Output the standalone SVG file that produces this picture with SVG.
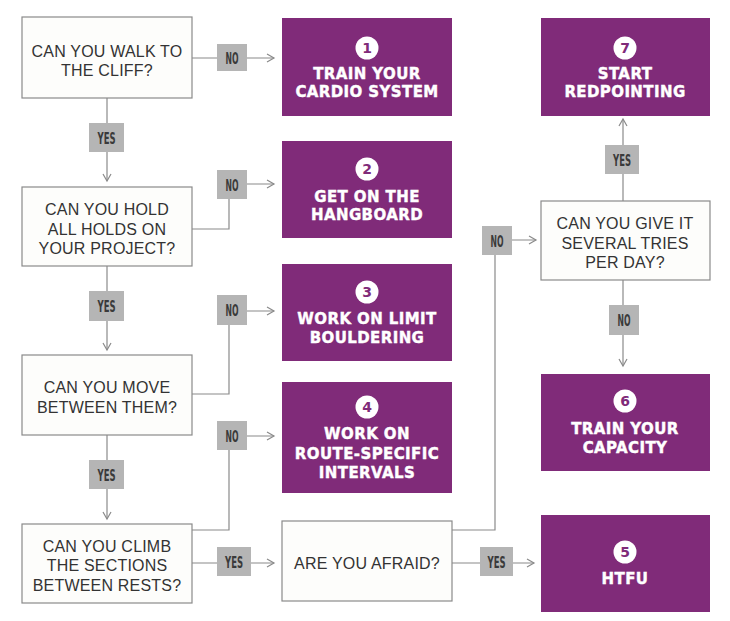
<svg xmlns="http://www.w3.org/2000/svg" width="730" height="621" viewBox="0 0 730 621">
<style>
.q{fill:#fdfdfb;stroke:#8a8a8a;stroke-width:1.2}
.qt{font-family:"Liberation Sans",Arial,sans-serif;font-size:16px;fill:#333;text-anchor:middle;dominant-baseline:central;letter-spacing:0.2px}
.p{fill:#802b79}
.pt{font-family:"DejaVu Sans","Liberation Sans",sans-serif;font-weight:bold;font-size:15px;fill:#fff;stroke:#fff;stroke-width:0.4;text-anchor:middle;dominant-baseline:central;letter-spacing:0.4px}
.num{fill:#fff}
.nt{font-family:"DejaVu Sans","Liberation Sans",sans-serif;font-weight:bold;font-size:14px;fill:#802b79;text-anchor:middle;dominant-baseline:central}
.c{fill:none;stroke:#8a8a8a;stroke-width:1.2;marker-end:url(#ah)}
.lb{fill:#b5b5b5}
.lt{font-family:"DejaVu Sans Condensed","Liberation Sans",sans-serif;font-weight:bold;font-size:16px;fill:#3a3a3a;text-anchor:middle;dominant-baseline:central}
</style>
<defs>
<marker id="ah" markerUnits="userSpaceOnUse" markerWidth="12" markerHeight="12" refX="8" refY="5" orient="auto">
<path d="M1,1 L8,5 L1,9" fill="none" stroke="#8a8a8a" stroke-width="1.2"/>
</marker>
</defs>
<rect width="730" height="621" fill="#fff"/>
<g id="connectors">
<path class="c" d="M192,58 H274"/>
<path class="c" d="M107,98 V181"/>
<path class="c" d="M192,229 H229 V184 H274"/>
<path class="c" d="M107,266 V350"/>
<path class="c" d="M192,394 H229 V311 H274"/>
<path class="c" d="M107,435 V519"/>
<path class="c" d="M192,530 H229 V436 H274"/>
<path class="c" d="M192,563 H274"/>
<path class="c" d="M452,530 H495 V240 H536"/>
<path class="c" d="M452,563 H534"/>
<path class="c" d="M623,201 V119"/>
<path class="c" d="M623,280 V366"/>
<rect class="lb" x="217" y="44" width="30" height="27"/><text class="lt" x="232" y="58" textLength="13" lengthAdjust="spacingAndGlyphs">NO</text>
<rect class="lb" x="89" y="123" width="35" height="29"/><text class="lt" x="106.5" y="138" textLength="18" lengthAdjust="spacingAndGlyphs">YES</text>
<rect class="lb" x="217" y="170" width="30" height="29"/><text class="lt" x="232" y="185" textLength="13" lengthAdjust="spacingAndGlyphs">NO</text>
<rect class="lb" x="89" y="291" width="35" height="30"/><text class="lt" x="106.5" y="306" textLength="18" lengthAdjust="spacingAndGlyphs">YES</text>
<rect class="lb" x="217" y="295" width="30" height="30"/><text class="lt" x="232" y="310" textLength="13" lengthAdjust="spacingAndGlyphs">NO</text>
<rect class="lb" x="89" y="460" width="35" height="29"/><text class="lt" x="106.5" y="475" textLength="18" lengthAdjust="spacingAndGlyphs">YES</text>
<rect class="lb" x="217" y="421" width="30" height="29"/><text class="lt" x="232" y="436" textLength="13" lengthAdjust="spacingAndGlyphs">NO</text>
<rect class="lb" x="217" y="547" width="34" height="29"/><text class="lt" x="234" y="562" textLength="18" lengthAdjust="spacingAndGlyphs">YES</text>
<rect class="lb" x="482" y="226" width="30" height="29"/><text class="lt" x="497" y="241" textLength="13" lengthAdjust="spacingAndGlyphs">NO</text>
<rect class="lb" x="480" y="547" width="33" height="29"/><text class="lt" x="496.5" y="562" textLength="18" lengthAdjust="spacingAndGlyphs">YES</text>
<rect class="lb" x="605" y="145" width="34" height="29"/><text class="lt" x="622" y="160" textLength="18" lengthAdjust="spacingAndGlyphs">YES</text>
<rect class="lb" x="609" y="305" width="30" height="30"/><text class="lt" x="624" y="320" textLength="13" lengthAdjust="spacingAndGlyphs">NO</text>
</g>
<g id="q1"><rect class="q" x="22" y="17" width="170" height="81"/><text class="qt" x="107" y="51">CAN YOU WALK TO</text><text class="qt" x="107" y="70">THE CLIFF?</text></g>
<g id="q2"><rect class="q" x="22" y="187" width="170" height="79"/><text class="qt" x="107" y="209">CAN YOU HOLD</text><text class="qt" x="107" y="229">ALL HOLDS ON</text><text class="qt" x="107" y="248">YOUR PROJECT?</text></g>
<g id="q3"><rect class="q" x="22" y="355" width="170" height="80"/><text class="qt" x="107" y="387">CAN YOU MOVE</text><text class="qt" x="107" y="407">BETWEEN THEM?</text></g>
<g id="q4"><rect class="q" x="22" y="524" width="170" height="79"/><text class="qt" x="107" y="546">CAN YOU CLIMB</text><text class="qt" x="107" y="565">THE SECTIONS</text><text class="qt" x="107" y="585">BETWEEN RESTS?</text></g>
<g id="q5"><rect class="q" x="282" y="521" width="170" height="80"/><text class="qt" x="367" y="563">ARE YOU AFRAID?</text></g>
<g id="q6"><rect class="q" x="541" y="201" width="169" height="79"/><text class="qt" x="625" y="223">CAN YOU GIVE IT</text><text class="qt" x="625" y="243">SEVERAL TRIES</text><text class="qt" x="625" y="262">PER DAY?</text></g>
<g id="r1"><rect class="p" x="282" y="18" width="170" height="98"/><circle class="num" cx="367" cy="48" r="11.5"/><text class="nt" x="367" y="48">1</text><text class="pt" x="367" y="74">TRAIN YOUR</text><text class="pt" x="367" y="92">CARDIO SYSTEM</text></g>
<g id="r2"><rect class="p" x="282" y="141" width="170" height="97"/><circle class="num" cx="367" cy="169" r="11.5"/><text class="nt" x="367" y="169">2</text><text class="pt" x="367" y="197">GET ON THE</text><text class="pt" x="367" y="215">HANGBOARD</text></g>
<g id="r3"><rect class="p" x="282" y="264" width="170" height="97"/><circle class="num" cx="367" cy="292" r="11.5"/><text class="nt" x="367" y="292">3</text><text class="pt" x="367" y="319">WORK ON LIMIT</text><text class="pt" x="367" y="338">BOULDERING</text></g>
<g id="r4"><rect class="p" x="282" y="382" width="170" height="111"/><circle class="num" cx="367" cy="407" r="11.5"/><text class="nt" x="367" y="407">4</text><text class="pt" x="367" y="434">WORK ON</text><text class="pt" x="367" y="454">ROUTE-SPECIFIC</text><text class="pt" x="367" y="473">INTERVALS</text></g>
<g id="r7"><rect class="p" x="541" y="18" width="169" height="98"/><circle class="num" cx="625" cy="48" r="11.5"/><text class="nt" x="625" y="48">7</text><text class="pt" x="625" y="74">START</text><text class="pt" x="625" y="92">REDPOINTING</text></g>
<g id="r6"><rect class="p" x="541" y="374" width="169" height="97"/><circle class="num" cx="625" cy="401" r="11.5"/><text class="nt" x="625" y="401">6</text><text class="pt" x="625" y="429">TRAIN YOUR</text><text class="pt" x="625" y="448">CAPACITY</text></g>
<g id="r5"><rect class="p" x="541" y="515" width="169" height="97"/><circle class="num" cx="625" cy="552" r="11.5"/><text class="nt" x="625" y="552">5</text><text class="pt" x="625" y="579">HTFU</text></g>
</svg>
